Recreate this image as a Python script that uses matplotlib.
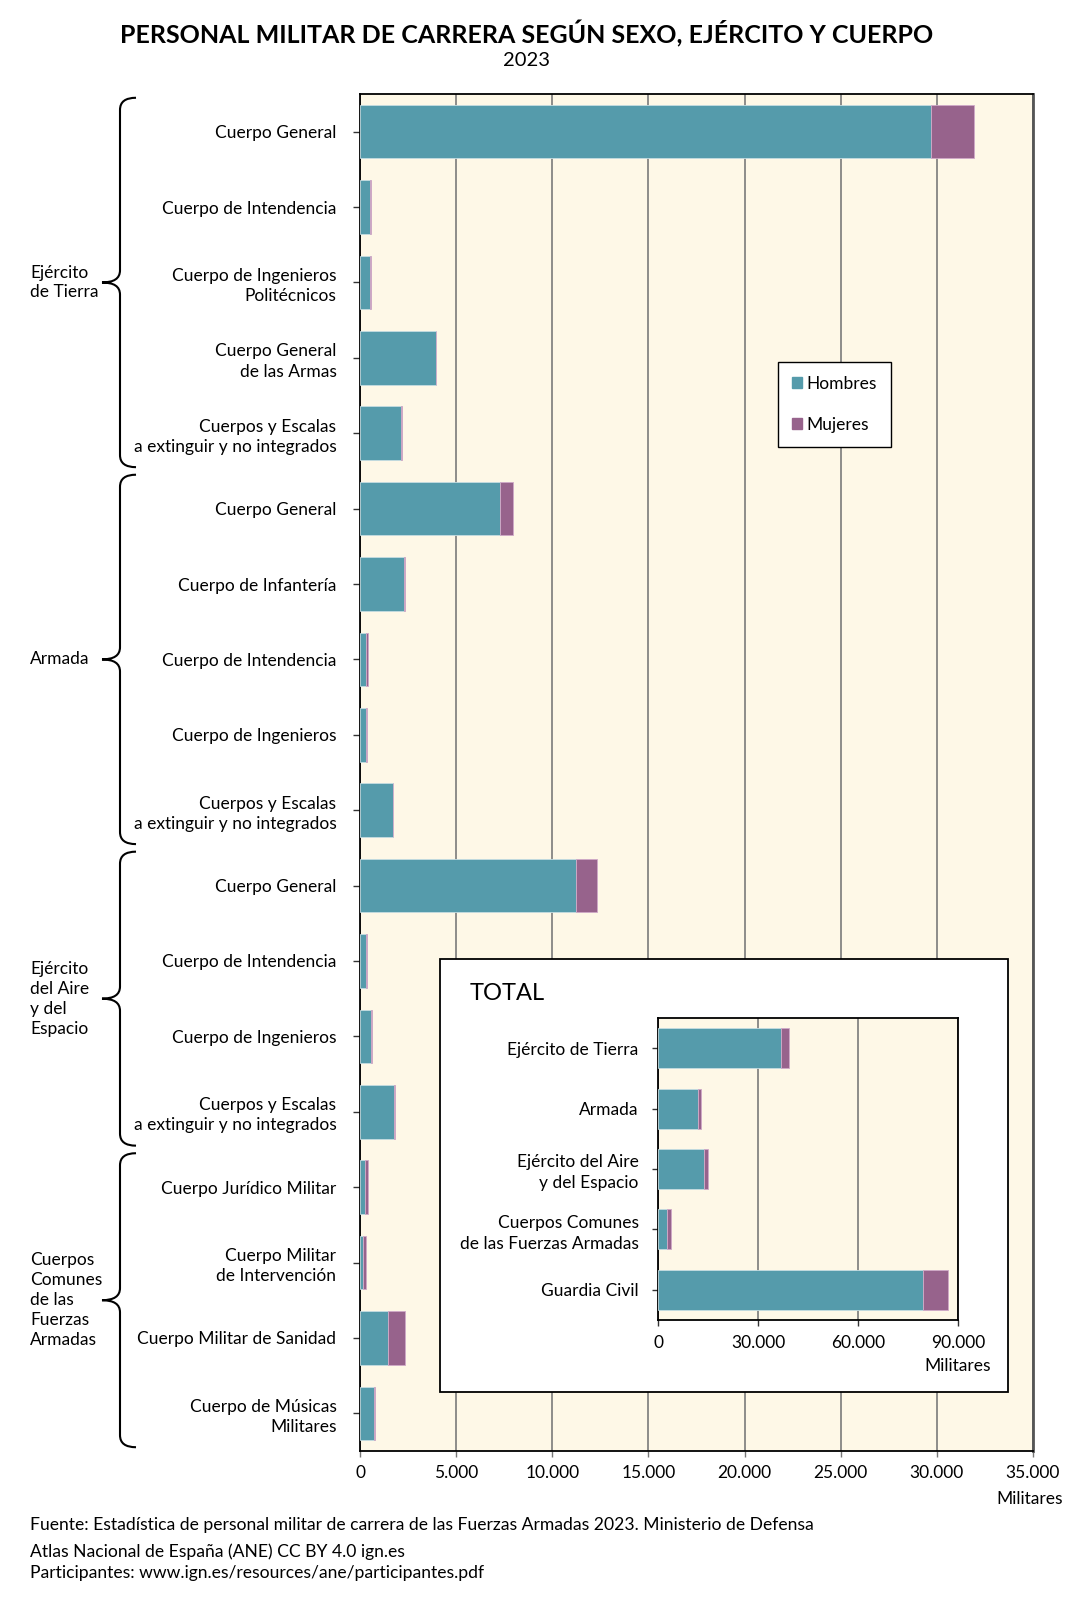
import matplotlib
matplotlib.use("Agg")
import matplotlib.pyplot as plt
import matplotlib.transforms as mtransforms
from matplotlib.patches import Rectangle, PathPatch, Patch
from matplotlib.path import Path
from matplotlib.ticker import FuncFormatter

plt.rcParams["font.family"] = ["Lato", "DejaVu Sans"]

# datos (personal militar de carrera 2023)
cuerpos = [
    "Cuerpo General", "Cuerpo de Intendencia", "Cuerpo de Ingenieros\nPolitécnicos",
    "Cuerpo General\nde las Armas", "Cuerpos y Escalas\na extinguir y no integrados",
    "Cuerpo General", "Cuerpo de Infantería", "Cuerpo de Intendencia",
    "Cuerpo de Ingenieros", "Cuerpos y Escalas\na extinguir y no integrados",
    "Cuerpo General", "Cuerpo de Intendencia", "Cuerpo de Ingenieros",
    "Cuerpos y Escalas\na extinguir y no integrados",
    "Cuerpo Jurídico Militar", "Cuerpo Militar\nde Intervención",
    "Cuerpo Militar de Sanidad", "Cuerpo de Músicas\nMilitares",
]
hombres = [29680, 515, 505, 3965, 2150,
           7280, 2300, 300, 330, 1730,
           11250, 310, 550, 1785,
           260, 175, 1455, 725]
mujeres = [2270, 45, 50, 10, 10,
           675, 35, 100, 20, 10,
           1060, 40, 60, 10,
           140, 140, 885, 30]

grupos = ["Ejército\nde Tierra", "Armada", "Ejército\ndel Aire\ny del\nEspacio",
          "Cuerpos\nComunes\nde las\nFuerzas\nArmadas"]
grupo_n = [5, 5, 4, 4]

total_cat = ["Ejército de Tierra", "Armada", "Ejército del Aire\ny del Espacio",
             "Cuerpos Comunes\nde las Fuerzas Armadas", "Guardia Civil"]
total_h = [36800, 11950, 13750, 2610, 79400]
total_m = [2350, 840, 1160, 1170, 7720]

TEAL = "#559bab"
PURPLE = "#97638c"
CREAM = "#fef8e7"

W, H = 1082, 1604
fig = plt.figure(figsize=(W / 100, H / 100), dpi=100)


def fx(px):
    return px / W


def fy(py):
    return 1 - py / H


def miles(v, pos):
    return f"{int(v):,}".replace(",", ".")


# ---- main chart
ax = fig.add_axes([fx(360), fy(1451), fx(1033 - 360), (1451 - 94) / H])
ax.set_facecolor(CREAM)
ypos = list(range(len(cuerpos)))
ax.barh(ypos, hombres, height=0.71, color=TEAL, edgecolor="#c5dde2",
        linewidth=0.6, zorder=3, label="Hombres")
ax.barh(ypos, mujeres, left=hombres, height=0.71, color=PURPLE,
        edgecolor="#cfa9c8", linewidth=0.6, zorder=3, label="Mujeres")
ax.set_xlim(0, 35000)
ax.set_ylim(len(cuerpos) - 0.5, -0.5)
ax.set_xticks(range(0, 35001, 5000))
ax.xaxis.set_major_formatter(FuncFormatter(miles))
ax.set_yticks(ypos)
ax.set_yticklabels(cuerpos, linespacing=1.32)
ax.grid(axis="x", color="#7a7a7a", linewidth=1.2, zorder=0)
ax.tick_params(axis="y", length=5, width=1, color="#333333", pad=12, labelsize=12.5)
ax.tick_params(axis="x", length=4, width=1, color="#777777", pad=6, labelsize=12.5)
for s in ["top", "left", "bottom"]:
    ax.spines[s].set_color("black")
    ax.spines[s].set_linewidth(1.3)
ax.spines["right"].set_color("#555555")
ax.spines["right"].set_linewidth(2)
fig.text(fx(1030), fy(1499), "Militares", ha="center", va="center", fontsize=12.5)

leg = ax.legend(handles=[Patch(color=TEAL, label="Hombres"), Patch(color=PURPLE, label="Mujeres")],
                loc="upper left", bbox_to_anchor=(fx(778), fy(362)),
                bbox_transform=fig.transFigure, fontsize=12.5, frameon=True,
                fancybox=False, edgecolor="black", framealpha=1,
                handlelength=0.6, handleheight=0.6, handletextpad=0.25,
                labelspacing=1.45, borderpad=0.8, borderaxespad=0)
leg.get_frame().set_linewidth(1)

# braces for the groups
tr = mtransforms.blended_transform_factory(ax.transAxes, ax.transData)


def ax_x(px):
    return (px - 360) / 673


x_end, x_line, x_tip = ax_x(136), ax_x(120), ax_x(102)
c = 0.16
start = -0.5
for nombre, n in zip(grupos, grupo_n):
    a = start + 0.05
    b = start + n - 0.05
    m = (a + b) / 2
    verts = [(x_end, a), (x_line, a), (x_line, a + c),
             (x_line, m - c), (x_line, m), (x_tip, m),
             (x_line, m), (x_line, m + c),
             (x_line, b - c), (x_line, b), (x_end, b)]
    codes = [Path.MOVETO, Path.CURVE3, Path.CURVE3,
             Path.LINETO, Path.CURVE3, Path.CURVE3,
             Path.CURVE3, Path.CURVE3,
             Path.LINETO, Path.CURVE3, Path.CURVE3]
    ax.add_patch(PathPatch(Path(verts, codes), transform=tr, fill=False,
                           edgecolor="black", linewidth=1.5, clip_on=False))
    ax.text(ax_x(30), m, nombre, transform=tr, ha="left", va="center",
            fontsize=12.5, linespacing=1.3)
    start += n

# ---- inset TOTAL
box = Rectangle((fx(440), fy(1392)), fx(1008 - 440), (1392 - 959) / H,
                transform=fig.transFigure, facecolor="white", edgecolor="black",
                linewidth=1.3, zorder=5)
fig.add_artist(box)
fig.text(fx(470), fy(993), "TOTAL", ha="left", va="center", fontsize=17, zorder=6)

ax2 = fig.add_axes([fx(658), fy(1320), fx(958 - 658), (1320 - 1018) / H], zorder=7)
ax2.set_facecolor(CREAM)
ypos2 = list(range(len(total_cat)))
ax2.barh(ypos2, total_h, height=0.66, color=TEAL, edgecolor="#c5dde2",
         linewidth=0.6, zorder=3)
ax2.barh(ypos2, total_m, left=total_h, height=0.66, color=PURPLE,
         edgecolor="#cfa9c8", linewidth=0.6, zorder=3)
ax2.set_xlim(0, 90000)
ax2.set_ylim(len(total_cat) - 0.5, -0.5)
ax2.set_xticks([0, 30000, 60000, 90000])
ax2.xaxis.set_major_formatter(FuncFormatter(miles))
ax2.set_yticks(ypos2)
ax2.set_yticklabels(total_cat, linespacing=1.38)
ax2.grid(axis="x", color="#7a7a7a", linewidth=1.2, zorder=0)
ax2.tick_params(axis="y", length=4, width=1, color="#333333", pad=10, labelsize=12.5)
ax2.tick_params(axis="x", length=4, width=1, color="#333333", pad=7, labelsize=12.5)
for s in ax2.spines.values():
    s.set_color("black")
    s.set_linewidth(1.3)
fig.text(fx(958), fy(1366), "Militares", ha="center", va="center", fontsize=12.5, zorder=8)

# ---- titles and footer
fig.text(fx(527), fy(34), "PERSONAL MILITAR DE CARRERA SEGÚN SEXO, EJÉRCITO Y CUERPO",
         ha="center", va="center", fontsize=18, fontweight="bold")
fig.text(fx(527), fy(60), "2023", ha="center", va="center", fontsize=14.5)
fig.text(fx(30), fy(1525), "Fuente: Estadística de personal militar de carrera de las Fuerzas Armadas 2023. Ministerio de Defensa",
         ha="left", va="center", fontsize=12.6)
fig.text(fx(30), fy(1552), "Atlas Nacional de España (ANE) CC BY 4.0 ign.es",
         ha="left", va="center", fontsize=12.6)
fig.text(fx(30), fy(1573), "Participantes: www.ign.es/resources/ane/participantes.pdf",
         ha="left", va="center", fontsize=12.6)

fig.savefig("out.png", dpi=100, facecolor="white")
